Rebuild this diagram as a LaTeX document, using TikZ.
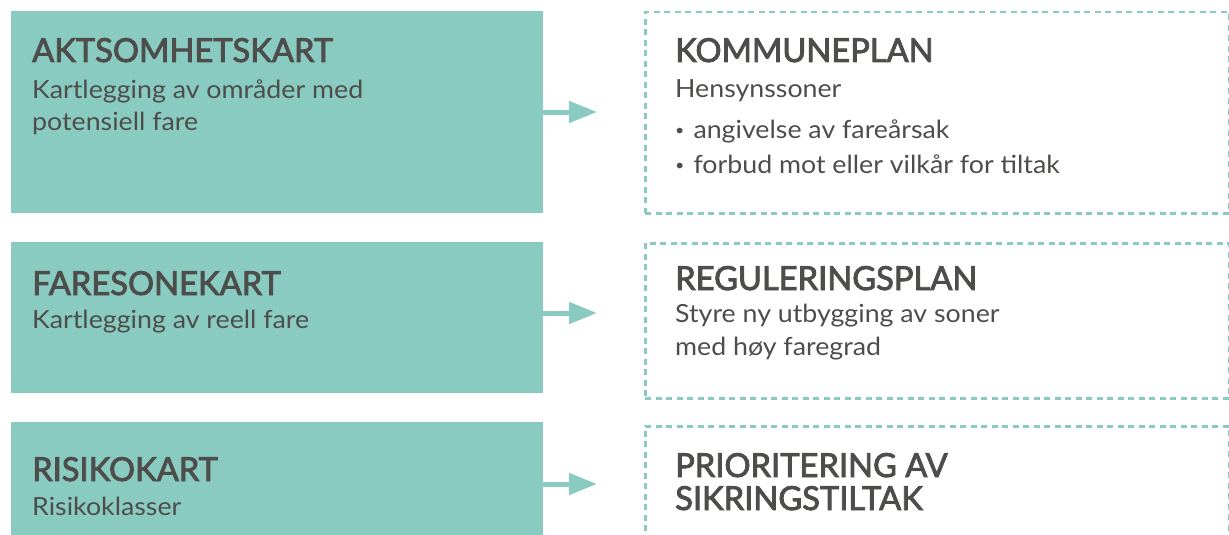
\documentclass[tikz,border=0pt]{standalone}
\usepackage{fontspec}
\setmainfont{Lato}[FakeStretch=1.07]
\newfontfamily\ttlfont{Lato}[FakeStretch=0.99, FakeBold=2.6]
\usetikzlibrary{arrows.meta}
\definecolor{mint}{HTML}{89CBC0}
\definecolor{txt}{HTML}{4D4D4B}
\newcommand{\blt}{\raisebox{3pt}{\fontsize{15}{15}\selectfont•}\hspace{9pt}}
\tikzset{
  lbox/.style={fill=mint, draw=none, inner sep=0pt, anchor=north west, minimum width=532pt},
  rbox/.style={draw=mint, line width=2.5pt, dash pattern=on 6pt off 4.5pt, inner sep=0pt, anchor=north west, minimum width=584pt},
  ttl/.style={text=txt, inner sep=0pt, anchor=base west, font=\ttlfont\fontsize{33}{36}\selectfont},
  sub/.style={text=txt, inner sep=0pt, anchor=base west, font=\fontsize{25}{28}\selectfont},
  arr/.style={draw=mint, line width=5pt, -{Triangle[length=28pt,width=21pt]}}
}
\begin{document}
\begin{tikzpicture}[x=1pt,y=-1pt]
\useasboundingbox (0,0) rectangle (1229,535);
\clip (0,0) rectangle (1229,535);
% left boxes
\node[lbox, minimum height=202pt] (a1) at (11,11) {};
\node[lbox, minimum height=151pt] (a2) at (11,242) {};
\node[lbox, minimum height=130pt] (a3) at (11,422) {};
% right boxes
\node[rbox, minimum height=201pt] (b1) at (644,11) {};
\node[rbox, minimum height=155pt] (b2) at (644,242) {};
\node[rbox, minimum height=140pt] (b3) at (644,425) {};
% arrows
\coordinate (c1) at (597,112);
\coordinate (c2) at (597,313);
\coordinate (c3) at (597,484);
\draw[arr] (a1.east |- c1) -- (c1);
\draw[arr] (a2.east |- c2) -- (c2);
\draw[arr] (a3.east |- c3) -- (c3);
% left texts
\node[ttl] (t1) at (32,62) {AKTSOMHETSKART};
\node[sub] (s1a) at (32,98) {Kartlegging av områder med};
\node[sub] (s1b) at (32,130) {potensiell fare};
\node[ttl] (t2) at (32,295) {FARESONEKART};
\node[sub] (s2a) at (32,328) {Kartlegging av reell fare};
\node[ttl] (t3) at (32,481) {RISIKOKART};
\node[sub] (s3a) at (32,515) {Risikoklasser};
% right texts
\node[ttl] (u1) at (675,62) {KOMMUNEPLAN};
\node[sub] (v1a) at (675,97) {Hensynssoner};
\node[sub] (v1b) at (675,138) {\blt angivelse av fareårsak};
\node[sub] (v1c) at (675,173) {\blt forbud mot eller vilkår for tiltak};
\node[ttl] (u2) at (675,290) {REGULERINGSPLAN};
\node[sub] (v2a) at (675,322) {Styre ny utbygging av soner};
\node[sub] (v2b) at (675,355) {med høy faregrad};
\node[ttl] (u3) at (675,477) {PRIORITERING AV};
\node[ttl] (u3b) at (675,510) {SIKRINGSTILTAK};
\end{tikzpicture}
\end{document}
